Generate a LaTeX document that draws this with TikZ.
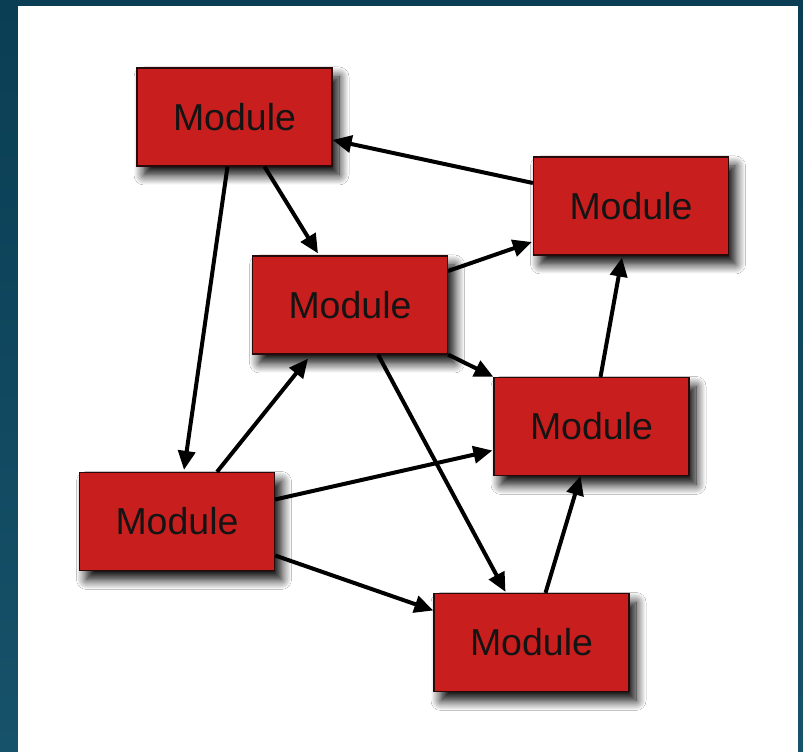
\documentclass[tikz,border=0pt]{standalone}
\usepackage{fontspec}
\setmainfont{Liberation Sans}
\usetikzlibrary{arrows.meta,shadows.blur}
\definecolor{modred}{RGB}{201,30,30}
\definecolor{modedge}{RGB}{40,10,10}
\definecolor{bgtop}{RGB}{10,62,84}
\definecolor{bgbot}{RGB}{22,82,106}
\begin{document}
\begin{tikzpicture}[x=1pt,y=1pt,
  module/.style={rectangle, draw=modedge, line width=1.2pt, fill=modred,
    minimum width=195pt, minimum height=98pt, inner sep=0pt,
    font=\fontsize{37.5}{42}\selectfont, text=black!92,
    blur shadow={shadow xshift=7pt, shadow yshift=-9pt,
      shadow blur radius=10pt, shadow blur steps=12, shadow opacity=100}},
  link/.style={line width=4pt, draw=black, -{Triangle[length=19pt,width=17pt]}}]
% frame and white panel
\shade[top color=bgtop, bottom color=bgbot] (0,0) rectangle (803,752);
\fill[white] (18,0) rectangle (798,746);
\useasboundingbox (0,0) rectangle (803,752);

% modules
\node[module] (tl) at (234.5,635)   {Module};
\node[module] (tr) at (631,546)     {Module};
\node[module] (m)  at (350,447)     {Module};
\node[module] (mr) at (591.5,325.5) {Module};
\node[module] (bl) at (177,230.5)   {Module};
\node[module] (b)  at (531.5,109.5) {Module};

% dependencies
\draw[link] ([yshift=23pt]tr.west) -- ([yshift=-23pt]tl.east);
\draw[link] ([xshift=-7pt]tl.south) -- ([xshift=7pt,yshift=2pt]bl.north);
\draw[link] ([xshift=30pt]tl.south) -- ([xshift=-32pt,yshift=2pt]m.north);
\draw[link] ([yshift=34pt]m.east) -- ([xshift=-1pt,yshift=-36pt]tr.west);
\draw[link] (m.south east) -- (mr.north west);
\draw[link] ([xshift=9pt]mr.north) -- ([xshift=-9pt,yshift=-2pt]tr.south);
\draw[link] ([xshift=28pt]m.south) -- ([xshift=-26pt,yshift=1pt]b.north);
\draw[link] ([xshift=40pt]bl.north) -- ([xshift=-42pt,yshift=-4pt]m.south);
\draw[link] ([yshift=22pt]bl.east) -- ([xshift=-1pt,yshift=-24pt]mr.west);
\draw[link] ([yshift=-34pt]bl.east) -- ([yshift=32pt]b.west);
\draw[link] ([xshift=14pt]b.north) -- ([xshift=-11pt]mr.south);
\end{tikzpicture}
\end{document}
